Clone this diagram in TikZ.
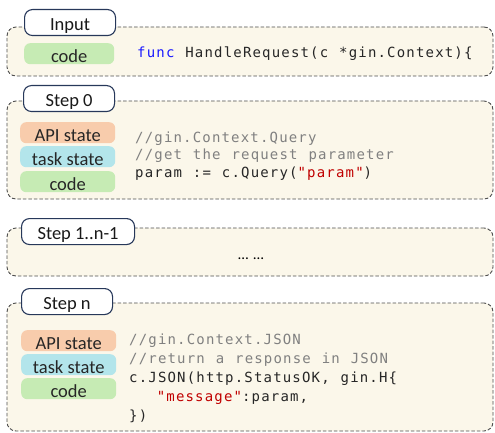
\documentclass[tikz,border=0pt]{standalone}
\usepackage{fontspec}
\setmainfont{Carlito}
\newfontfamily\codefont[LetterSpace=8.4, WordSpace=1.14]{DejaVu Sans Mono}
\definecolor{panelfill}{HTML}{FBF7EA}
\definecolor{panelline}{HTML}{4D4D4D}
\definecolor{labelline}{HTML}{27385A}
\definecolor{apicol}{HTML}{F8CCAC}
\definecolor{taskcol}{HTML}{B3E5EB}
\definecolor{codecol}{HTML}{C6EBB4}
\definecolor{kw}{HTML}{1A1AFF}
\definecolor{cm}{HTML}{808080}
\definecolor{str}{HTML}{C00000}
\definecolor{codetext}{HTML}{262626}
\tikzset{
  panel/.style={draw=panelline, fill=panelfill, dash pattern=on 3.5pt off 2pt,
    line width=0.9pt, rounded corners=9pt, minimum width=486pt, inner sep=0pt},
  steplabel/.style={draw=labelline, fill=white, line width=1.1pt, rounded corners=8pt,
    minimum width=91pt, text height=20.5pt, text depth=5.5pt, inner sep=0pt,
    font=\fontsize{18.5}{20}\selectfont, text=black!90},
  pill/.style={rounded corners=6pt, minimum width=95pt, text height=19pt, text depth=2pt,
    inner sep=0pt, font=\fontsize{18.5}{20}\selectfont, text=black!85},
  apipill/.style={pill, fill=apicol},
  taskpill/.style={pill, fill=taskcol},
  codepill/.style={pill, fill=codecol},
  codeline/.style={anchor=base west, inner sep=0pt, font=\codefont\fontsize{14}{16}\selectfont, text=codetext},
}
\begin{document}
\begin{tikzpicture}[x=1pt, y=-1pt]
\useasboundingbox (0,0) rectangle (495,433);
% panels
\node[panel, minimum height=49pt] (p0) at (250,51.5) {};
\node[panel, minimum height=98pt] (p1) at (250,150) {};
\node[panel, minimum height=48pt] (p2) at (250,252) {};
\node[panel, minimum height=128pt] (p3) at (250,367) {};
% step labels
\node[steplabel, anchor=north west] (l0) at (24,9) {Input};
\node[steplabel, anchor=north west] (l1) at (23,85) {Step 0};
\node[steplabel, anchor=north west, minimum width=113pt] (l2) at (21,218) {Step 1..n-1};
\node[steplabel, anchor=north west] (l3) at (21,288) {Step n};
% input
\node[codepill, anchor=north west, minimum width=90pt] (c0) at (24,43) {code};
\node[codeline] (t0) at (137,58) {{\color{kw}func} HandleRequest(c *gin.Context)\{};
% step 0
\node[apipill, anchor=north west] (a1) at (20,122) {API state};
\node[taskpill, anchor=north west] (s1) at (20,146) {task state};
\node[codepill, anchor=north west] (c1) at (20,171) {code};
\node[codeline, text=cm] (t11) at (135,142.5) {//gin.Context.Query};
\node[codeline, text=cm] (t12) at (135,160) {//get the request parameter};
\node[codeline] (t13) at (135,177.5) {param := c.Query({\color{str}"param"})};
% step 1..n-1
\node[anchor=base, inner sep=0pt, font=\fontsize{15}{16}\selectfont] (d2) at (251,259) {…\hspace{5pt}…};
% step n
\node[apipill, anchor=north west] (a3) at (21,330) {API state};
\node[taskpill, anchor=north west] (s3) at (21,354) {task state};
\node[codepill, anchor=north west] (c3) at (21,378) {code};
\node[codeline, text=cm] (t31) at (129,344.5) {//gin.Context.JSON};
\node[codeline, text=cm] (t32) at (129,363) {//return a response in JSON};
\node[codeline] (t33) at (129,382) {c.JSON(http.StatusOK, gin.H\{};
\node[codeline] (t34) at (129,401) {\phantom{mmm}{\color{str}"message"}:param,};
\node[codeline] (t35) at (129,420) {\})};
\end{tikzpicture}
\end{document}
